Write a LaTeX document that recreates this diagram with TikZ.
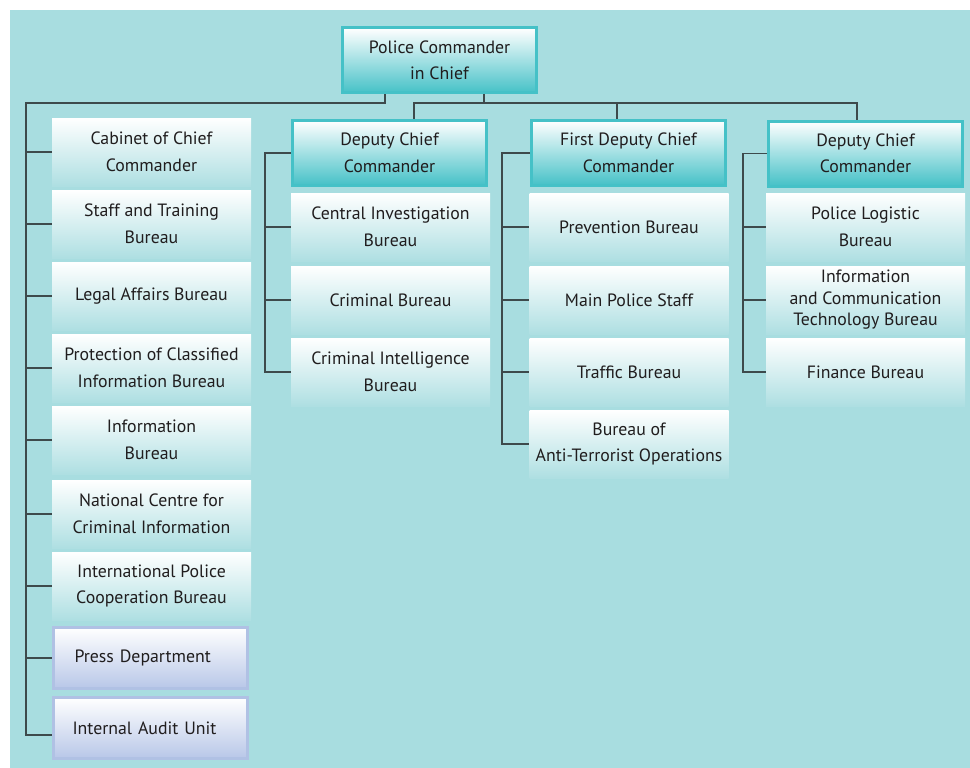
\documentclass[tikz,border=0pt]{standalone}
\usepackage{fontspec}
\setmainfont{PT Sans}
\definecolor{bgpanel}{HTML}{A8DDE0}
\definecolor{hdrteal}{HTML}{45C1C7}
\definecolor{boxlow}{HTML}{AEDFE2}
\definecolor{lavline}{HTML}{B0C1E4}
\definecolor{lavlow}{HTML}{B8C7E8}
\definecolor{txt}{HTML}{201D1E}
\definecolor{wire}{HTML}{3D4A4C}
\tikzset{
  unit/.style={minimum width=199pt, minimum height=68pt, inner sep=0pt,
    top color=white, bottom color=boxlow, align=center, text=txt,
    font=\fontsize{17.8}{26.5}\selectfont},
  head/.style={unit, draw=hdrteal, line width=3pt, bottom color=hdrteal,
    minimum width=194pt, minimum height=65pt},
  pressbox/.style={unit, draw=lavline, line width=3pt, bottom color=lavlow,
    minimum width=194pt, minimum height=61pt, text width=152pt, align=left},
  wire/.style={draw=wire, line width=1.3pt},
  spine/.style={draw=wire, line width=1.8pt},
}
\begin{document}
\begin{tikzpicture}[x=1pt, y=-1pt]
\useasboundingbox (0,0) rectangle (970,768);
\fill[white] (0,0) rectangle (970,768);
\fill[bgpanel] (10,10) rectangle (970,768);

% chief
\node[head] (top) at (439.5,60.5) {Police Commander\\in Chief};

% left column: units reporting directly to the chief
\node[unit] (cab)   at (151.5,152) {Cabinet of Chief\\Commander};
\node[unit] (staff) at (151.5,224) {Staff and Training\\Bureau};
\node[unit] (legal) at (151.5,296) {Legal Affairs Bureau};
\node[unit] (prot)  at (151.5,368) {Protection of Classified\\Information Bureau};
\node[unit] (info)  at (151.5,440) {Information\\Bureau};
\node[unit] (natl)  at (151.5,514) {National Centre for\\Criminal Information};
\node[unit] (intl)  at (151.5,586) {International Police\\Cooperation Bureau};
\node[pressbox] (press) at (150.5,658) {Press Department};
\node[pressbox] (audit) at (150.5,728) {\hspace*{-2pt}Internal Audit Unit};

% deputy chief (crime)
\node[head] (dep1) at (389.5,153) {Deputy Chief\\Commander};
\node[unit] (cib)   at (390.5,227) {Central Investigation\\Bureau};
\node[unit] (crim)  at (390.5,300) {Criminal Bureau};
\node[unit] (intel) at (390.5,372) {Criminal Intelligence\\Bureau};

% first deputy chief
\node[head] (dep2) at (628.5,153) {First Deputy Chief\\Commander};
\node[unit] (prev)  at (629,227) {Prevention Bureau};
\node[unit] (mps)   at (629,300) {Main Police Staff};
\node[unit] (traf)  at (629,372) {Traffic Bureau};
\node[unit] (anti)  at (629,444) {Bureau of\\Anti-Terrorist Operations};

% deputy chief (logistics)
\node[head] (dep3) at (865.5,153.5) {Deputy Chief\\Commander};
\node[unit] (logi)  at (865.5,227) {Police Logistic\\Bureau};
\node[unit, font=\fontsize{17.8}{21.5}\selectfont] (ict) at (865.5,300) {Information\\and Communication\\Technology Bureau};
\node[unit] (fin)   at (865.5,372) {Finance Bureau};

% junctions of the connector lines
\coordinate (jl) at (385,103);
\coordinate (jr) at (484,103);
\coordinate (sp) at (26,103);
\coordinate (b1) at (414,103);
\coordinate (b2) at (617,103);
\coordinate (b3) at (857,103);
\coordinate (s1) at (265,0);
\coordinate (s2) at (502,0);
\coordinate (s3) at (743,0);

% chief to the left column
\draw[spine] (top.south -| jl) -- (jl) -- (sp) |- ([yshift=-7pt]audit.west);
\foreach \n in {cab,staff,legal,prot,info,natl,intl,press}
  \draw[wire] (sp |- \n.west) -- (\n.west);

% chief to the three deputies
\draw[wire] (top.south -| jr) -- (jr);
\draw[wire] (dep1.north -| b1) -- (b1) -- (b3) -- (dep3.north -| b3);
\draw[wire] (b2) -- (dep2.north -| b2);

% deputies to their bureaus
\draw[wire] (dep1.west) -- (dep1.west -| s1) |- (intel.west);
\foreach \n in {cib,crim} \draw[wire] (s1 |- \n.west) -- (\n.west);
\draw[wire] (dep2.west) -- (dep2.west -| s2) |- (anti.west);
\foreach \n in {prev,mps,traf} \draw[wire] (s2 |- \n.west) -- (\n.west);
\draw[wire] (dep3.west) -- (dep3.west -| s3) |- (fin.west);
\foreach \n in {logi,ict} \draw[wire] (s3 |- \n.west) -- (\n.west);
\end{tikzpicture}
\end{document}
